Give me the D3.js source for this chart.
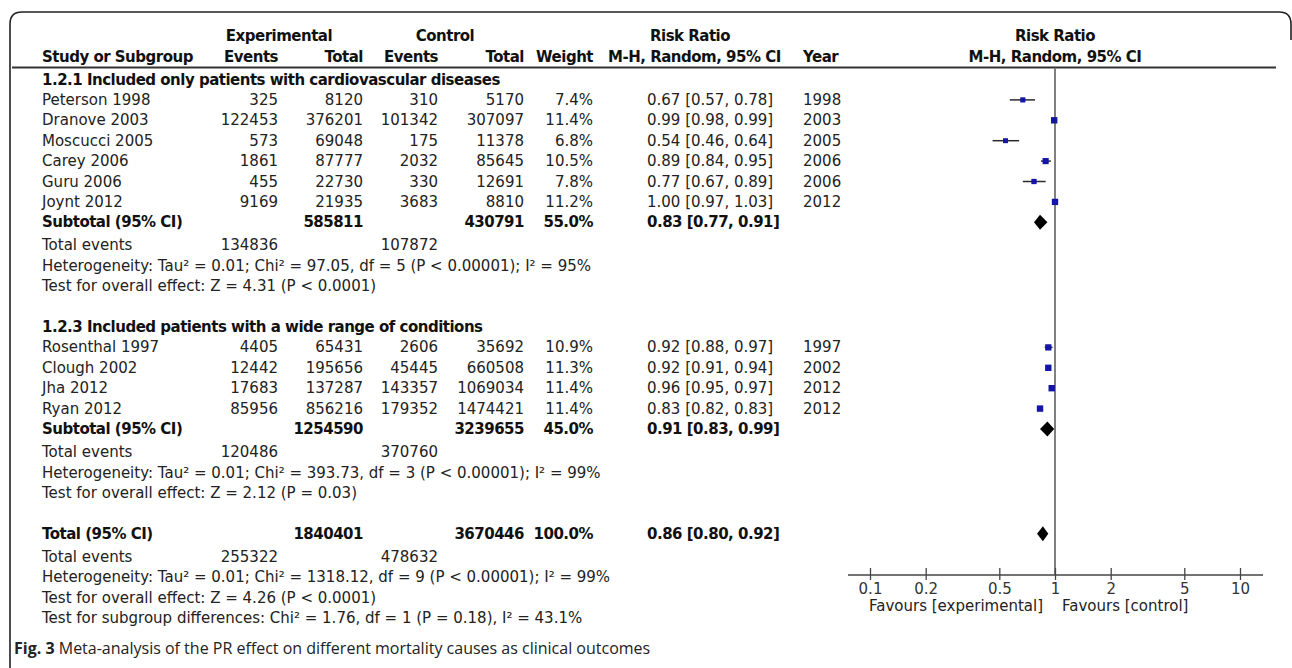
<!DOCTYPE html>
<html>
<head>
<meta charset="utf-8">
<script src="https://cdn.jsdelivr.net/npm/d3@7"></script>
<style>
  body { margin: 0; background: #fff; }
  svg text { font-family: "DejaVu Sans", Verdana, sans-serif; font-size: 15px; fill: #222; }
  svg text.b { font-weight: bold; letter-spacing: -0.5px; fill: #111; }
  svg text.caption { font-family: "Open Sans", sans-serif; font-size: 16px; fill: #222; }
</style>
</head>
<body>
<svg id="FOREST" width="1292" height="668"></svg>
<script>
// ---- data ----
const group1Title = "1.2.1 Included only patients with cardiovascular diseases";
const group1Studies = ["Peterson 1998", "Dranove 2003", "Moscucci 2005", "Carey 2006", "Guru 2006", "Joynt 2012"];
const group1ExpEvents = [325, 122453, 573, 1861, 455, 9169];
const group1ExpTotal = [8120, 376201, 69048, 87777, 22730, 21935];
const group1CtrlEvents = [310, 101342, 175, 2032, 330, 3683];
const group1CtrlTotal = [5170, 307097, 11378, 85645, 12691, 8810];
const group1Weight = [7.4, 11.4, 6.8, 10.5, 7.8, 11.2];
const group1RR = [0.67, 0.99, 0.54, 0.89, 0.77, 1.0];
const group1Lo = [0.57, 0.98, 0.46, 0.84, 0.67, 0.97];
const group1Hi = [0.78, 0.99, 0.64, 0.95, 0.89, 1.03];
const group1Years = [1998, 2003, 2005, 2006, 2006, 2012];

const group2Title = "1.2.3 Included patients with a wide range of conditions";
const group2Studies = ["Rosenthal 1997", "Clough 2002", "Jha 2012", "Ryan 2012"];
const group2ExpEvents = [4405, 12442, 17683, 85956];
const group2ExpTotal = [65431, 195656, 137287, 856216];
const group2CtrlEvents = [2606, 45445, 143357, 179352];
const group2CtrlTotal = [35692, 660508, 1069034, 1474421];
const group2Weight = [10.9, 11.3, 11.4, 11.4];
const group2RR = [0.92, 0.92, 0.96, 0.83];
const group2Lo = [0.88, 0.91, 0.95, 0.82];
const group2Hi = [0.97, 0.94, 0.97, 0.83];
const group2Years = [1997, 2002, 2012, 2012];

// subtotals: [group1, group2, overall]
const summaryLabels = ["Subtotal (95% CI)", "Subtotal (95% CI)", "Total (95% CI)"];
const summaryExpTotal = [585811, 1254590, 1840401];
const summaryCtrlTotal = [430791, 3239655, 3670446];
const summaryWeight = [55.0, 45.0, 100.0];
const summaryRR = [0.83, 0.91, 0.86];
const summaryLo = [0.77, 0.83, 0.80];
const summaryHi = [0.91, 0.99, 0.92];
const summaryExpEvents = [134836, 120486, 255322];
const summaryCtrlEvents = [107872, 370760, 478632];
const summaryHet = [
  "Heterogeneity: Tau² = 0.01; Chi² = 97.05, df = 5 (P < 0.00001); I² = 95%",
  "Heterogeneity: Tau² = 0.01; Chi² = 393.73, df = 3 (P < 0.00001); I² = 99%",
  "Heterogeneity: Tau² = 0.01; Chi² = 1318.12, df = 9 (P < 0.00001); I² = 99%"
];
const summaryTest = [
  "Test for overall effect: Z = 4.31 (P < 0.0001)",
  "Test for overall effect: Z = 2.12 (P = 0.03)",
  "Test for overall effect: Z = 4.26 (P < 0.0001)"
];
const subgroupTest = "Test for subgroup differences: Chi² = 1.76, df = 1 (P = 0.18), I² = 43.1%";

const tickValues = [0.1, 0.2, 0.5, 1, 2, 5, 10];
const favourLabels = ["Favours [experimental]", "Favours [control]"];
const captionBold = "Fig. 3";
const captionText = " Meta-analysis of the PR effect on different mortality causes as clinical outcomes";

// ---- layout ----
const svg = d3.select("#FOREST");
const col = { study: 42, expE: 278, expT: 363, ctlE: 438, ctlT: 524, weight: 593, rr: 647, year: 803 };
const ROW = 20.4;
const axisY = 575;

const x = d3.scaleLog().domain([0.1, 10]).range([870, 1240]);
const sq = d3.scaleSqrt().domain([0, 11.4]).range([0, 6.4]);
const f2 = d3.format(".2f");
const pct = (d) => d3.format(".1f")(d) + "%";
const ci = (m, l, h) => `${f2(m)} [${f2(l)}, ${f2(h)}]`;

// build the row list
const rows = [];
let y = 79.5;
const groups = [
  [group1Title, group1Studies, group1ExpEvents, group1ExpTotal, group1CtrlEvents, group1CtrlTotal, group1Weight, group1RR, group1Lo, group1Hi, group1Years],
  [group2Title, group2Studies, group2ExpEvents, group2ExpTotal, group2CtrlEvents, group2CtrlTotal, group2Weight, group2RR, group2Lo, group2Hi, group2Years]
];
function pushSummary(k) {
  rows.push({ type: "summary", y, k });
  y += ROW + 2.7;
  rows.push({ type: "events", y, k });
  y += ROW;
  rows.push({ type: "note", y, text: summaryHet[k] });
  y += ROW;
  rows.push({ type: "note", y, text: summaryTest[k] });
}
groups.forEach((g, gi) => {
  rows.push({ type: "group", y, text: g[0] });
  g[1].forEach((s, i) => {
    y += ROW;
    rows.push({
      type: "study", y, name: s,
      expE: g[2][i], expT: g[3][i], ctlE: g[4][i], ctlT: g[5][i],
      w: g[6][i], rr: g[7][i], lo: g[8][i], hi: g[9][i], year: g[10][i]
    });
  });
  y += ROW;
  pushSummary(gi);
  y += ROW * 2;
});
pushSummary(2);
y += ROW;
rows.push({ type: "note", y, text: subgroupTest });

const txt = (g, tx, ty, s, anchor, cls) =>
  g.append("text")
    .attr("x", tx)
    .attr("y", ty + 5)
    .attr("text-anchor", anchor || "start")
    .attr("class", cls || null)
    .text(s);

// frame
svg.append("path")
  .attr("d", "M10,668 V24 Q10,12 22,12 H1279 Q1291,12 1291,24 V40")
  .attr("fill", "none")
  .attr("stroke", "#222")
  .attr("stroke-width", 1.6);

// column headers
const head = svg.append("g");
txt(head, 279, 36, "Experimental", "middle", "b");
txt(head, 445, 36, "Control", "middle", "b");
txt(head, 690, 36, "Risk Ratio", "middle", "b");
txt(head, x(1), 36, "Risk Ratio", "middle", "b");
txt(head, col.study, 57, "Study or Subgroup", "start", "b");
txt(head, col.expE, 57, "Events", "end", "b");
txt(head, col.expT, 57, "Total", "end", "b");
txt(head, col.ctlE, 57, "Events", "end", "b");
txt(head, col.ctlT, 57, "Total", "end", "b");
txt(head, col.weight, 57, "Weight", "end", "b");
txt(head, 608, 57, "M-H, Random, 95% CI", "start", "b");
txt(head, col.year, 57, "Year", "start", "b");
txt(head, x(1), 57, "M-H, Random, 95% CI", "middle", "b");

svg.append("line")
  .attr("x1", 12).attr("x2", 1276)
  .attr("y1", 67.5).attr("y2", 67.5)
  .attr("stroke", "#333")
  .attr("stroke-width", 1.8);

// line of no effect
svg.append("line")
  .attr("x1", x(1)).attr("x2", x(1))
  .attr("y1", 68).attr("y2", axisY)
  .attr("stroke", "#808080")
  .attr("stroke-width", 2);

// table rows + forest marks
svg.append("g")
  .selectAll("g")
  .data(rows)
  .join("g")
  .each(function (d) {
    const g = d3.select(this);
    if (d.type === "group") {
      txt(g, col.study, d.y, d.text, "start", "b");
    } else if (d.type === "study") {
      txt(g, col.study, d.y, d.name);
      txt(g, col.expE, d.y, d.expE, "end");
      txt(g, col.expT, d.y, d.expT, "end");
      txt(g, col.ctlE, d.y, d.ctlE, "end");
      txt(g, col.ctlT, d.y, d.ctlT, "end");
      txt(g, col.weight, d.y, pct(d.w), "end");
      txt(g, col.rr, d.y, ci(d.rr, d.lo, d.hi));
      txt(g, col.year, d.y, d.year);
      g.append("line")
        .attr("x1", x(d.lo)).attr("x2", x(d.hi))
        .attr("y1", d.y).attr("y2", d.y)
        .attr("stroke", "#2a2a2a")
        .attr("stroke-width", 1.5);
      const s = sq(d.w);
      g.append("rect")
        .attr("x", x(d.rr) - s / 2).attr("y", d.y - s / 2)
        .attr("width", s).attr("height", s)
        .attr("fill", "#1414a8");
    } else if (d.type === "summary") {
      const k = d.k;
      txt(g, col.study, d.y, summaryLabels[k], "start", "b");
      txt(g, col.expT, d.y, summaryExpTotal[k], "end", "b");
      txt(g, col.ctlT, d.y, summaryCtrlTotal[k], "end", "b");
      txt(g, col.weight, d.y, pct(summaryWeight[k]), "end", "b");
      txt(g, col.rr, d.y, ci(summaryRR[k], summaryLo[k], summaryHi[k]), "start", "b");
      const h = 7.5;
      g.append("path")
        .attr("d", `M${x(summaryLo[k])},${d.y} L${x(summaryRR[k])},${d.y - h} L${x(summaryHi[k])},${d.y} L${x(summaryRR[k])},${d.y + h} Z`)
        .attr("fill", "#000");
    } else if (d.type === "events") {
      txt(g, col.study, d.y, "Total events");
      txt(g, col.expE, d.y, summaryExpEvents[d.k], "end");
      txt(g, col.ctlE, d.y, summaryCtrlEvents[d.k], "end");
    } else {
      txt(g, col.study, d.y, d.text);
    }
  });

// axis
const axisG = svg.append("g").attr("transform", `translate(0,${axisY})`);
axisG.call(
  d3.axisBottom(x)
    .tickValues(tickValues)
    .tickFormat((d) => d)
    .tickSize(0)
    .tickPadding(8)
);
axisG.select(".domain").remove();
axisG.selectAll(".tick line")
  .attr("y1", -7).attr("y2", 5)
  .attr("stroke", "#444")
  .attr("stroke-width", 1.3);
axisG.selectAll(".tick text").style("fill", "#333");
axisG.append("line")
  .attr("x1", 848).attr("x2", 1263)
  .attr("stroke", "#444")
  .attr("stroke-width", 1.6);

txt(svg, x(1) - 12, 606, favourLabels[0], "end");
txt(svg, x(1) + 7, 606, favourLabels[1], "start");

// caption
const cap = svg.append("text")
  .attr("class", "caption")
  .attr("x", 14)
  .attr("y", 654);
cap.append("tspan").style("font-weight", "bold").text(captionBold);
cap.append("tspan").text(captionText);
</script>
</body>
</html>
